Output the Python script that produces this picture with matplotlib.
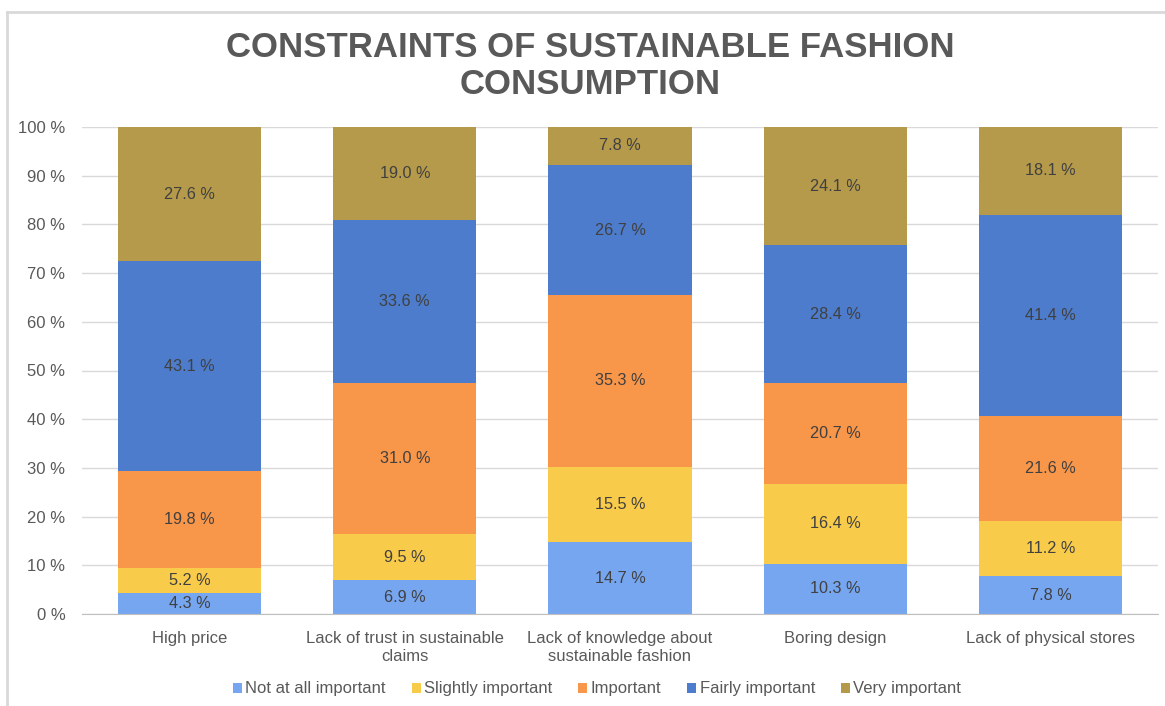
import matplotlib.pyplot as plt
from matplotlib.lines import Line2D
import numpy as np

plt.rcParams['font.family'] = ['Liberation Sans', 'DejaVu Sans']

# Categories and shares (%) per importance level
categories = ['High price', 'Lack of trust in sustainable\nclaims',
              'Lack of knowledge about\nsustainable fashion', 'Boring design',
              'Lack of physical stores']
levels = ['Not at all important', 'Slightly important', 'Important',
          'Fairly important', 'Very important']
notAtAll = [4.3, 6.9, 14.7, 10.3, 7.8]
slightly = [5.2, 9.5, 15.5, 16.4, 11.2]
important = [19.8, 31.0, 35.3, 20.7, 21.6]
fairly = [43.1, 33.6, 26.7, 28.4, 41.4]
very = [27.6, 19.0, 7.8, 24.1, 18.1]
colors = ['#77A6F0', '#F9CB4A', '#F8964A', '#4C7CCB', '#B59A4B']

series = [notAtAll, slightly, important, fairly, very]

fig = plt.figure(figsize=[11.65, 7.06], dpi=100)
ax = fig.add_axes([82 / 1165, 1 - 614 / 706, 1076 / 1165, 487 / 706])

x = np.arange(len(categories))
bottom = np.zeros(len(categories))
for vals, col, lab in zip(series, colors, levels):
	vals = np.array(vals)
	ax.bar(x, vals, bottom=bottom, width=0.665, color=col, label=lab, zorder=2)
	for xi, b, v in zip(x, bottom, vals):
		yc = min(b + v / 2, (b + 100) / 2)
		ax.text(xi, yc, f'{v:.1f} %', ha='center', va='center', fontsize=11.7, color='#404040', zorder=3)
	bottom += vals

ax.set_xlim(-0.5, len(categories) - 0.5)
ax.set_ylim(0, 100)
ax.set_yticks(np.arange(0, 101, 10))
ax.set_yticklabels([f'{t} %' for t in range(0, 101, 10)])
ax.set_xticks(x)
ax.set_xticklabels(categories, linespacing=1.3)
ax.tick_params(axis='both', length=0, labelsize=12, colors='#595959')
ax.tick_params(axis='y', pad=12)
ax.tick_params(axis='x', pad=12)
ax.grid(axis='y', color='#D9D9D9', linewidth=1, zorder=0)
for s in ['top', 'right', 'left']:
	ax.spines[s].set_visible(False)
ax.spines['bottom'].set_color('#BFBFBF')
ax.spines['bottom'].set_zorder(4)

fig.text(590 / 1165, 1 - 66 / 706, 'CONSTRAINTS OF SUSTAINABLE FASHION\nCONSUMPTION',
         ha='center', va='center', fontsize=25, fontweight='bold', color='#595959', linespacing=1.15)

fig.legend(loc='center', bbox_to_anchor=(597 / 1165, 1 - 689 / 706), ncol=5, frameon=False,
           fontsize=12, handlelength=0.55, handleheight=0.55, handletextpad=0.2, columnspacing=1.55,
           labelcolor='#595959')

# Chart frame
fig.add_artist(Line2D([7 / 1165, 7 / 1165], [0, 1 - 12 / 706], color='#D9D9D9', linewidth=2, transform=fig.transFigure))
fig.add_artist(Line2D([7 / 1165, 1], [1 - 12 / 706, 1 - 12 / 706], color='#D9D9D9', linewidth=2, transform=fig.transFigure))

fig.savefig('out.png', dpi=100)
